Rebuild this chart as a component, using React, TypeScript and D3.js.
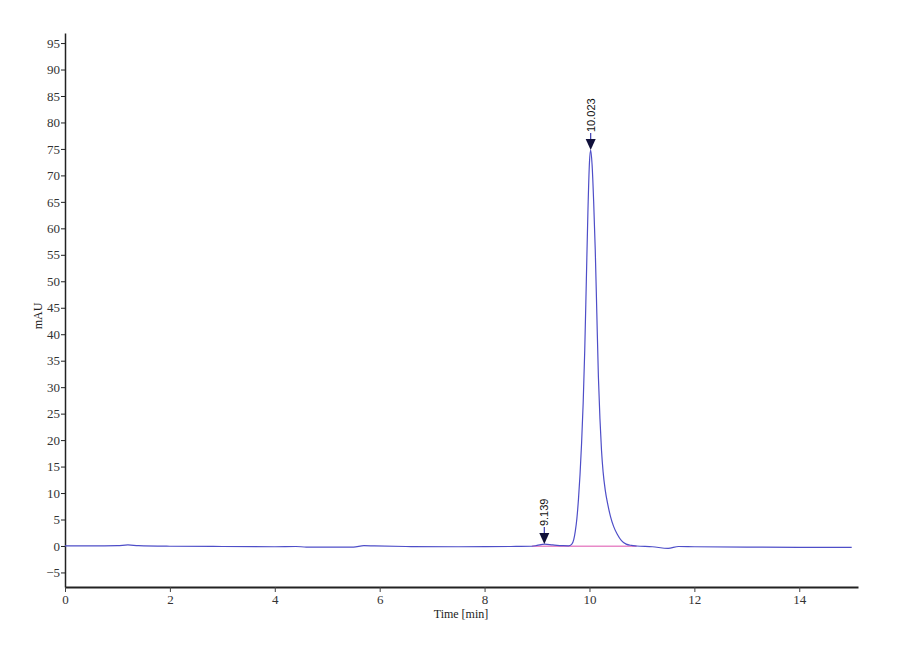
import React, { useRef, useEffect } from 'react';
import * as d3 from 'd3';

// chromatogram trace: time [min] and absorbance [mAU]
const traceTime = [
  0, 0.5, 1.0, 1.2, 1.4, 2.0, 3.0, 4.0, 4.4, 4.6, 5.0, 5.5, 5.7, 5.9, 6.5, 7.5, 8.5, 8.9,
  9.0, 9.14, 9.3, 9.5, 9.6, 9.66, 9.7, 9.73, 9.76, 9.79, 9.82, 9.85, 9.88, 9.91, 9.94, 9.97, 10.0,
  10.023, 10.05, 10.08, 10.11, 10.14, 10.17, 10.2, 10.23, 10.26, 10.3, 10.35, 10.4,
  10.46, 10.53, 10.61, 10.7, 10.8, 10.9, 11.2, 11.5, 11.7, 12.0, 13.0, 14.0, 15.0,
];
const traceValue = [
  0, 0, 0.05, 0.2, 0.05, -0.05, -0.1, -0.15, -0.1, -0.2, -0.2, -0.2, 0.05, 0, -0.1, -0.15, -0.1, -0.05,
  0.1, 0.35, 0.2, 0.05, 0.02, 0.3, 1.2, 2.8, 5.2, 8.8, 13.5, 19.5, 27, 37, 50, 63, 72.5,
  74.8, 72, 65, 56, 44, 32, 24, 18, 14, 10.6, 7.8, 5.6,
  3.7, 2.2, 1.0, 0.35, 0.1, 0, -0.15, -0.45, -0.1, -0.15, -0.2, -0.25, -0.25,
];

// integration baseline under the peaks
const baselineTime = [8.9, 10.9];
const baselineValue = [-0.05, -0.05];

// detected peaks
const peakTime = [9.139, 10.023];
const peakValue = [0.35, 74.8];
const peakLabel = ['9.139', '10.023'];

const yTicks = d3.range(-5, 96, 5);
const xTicks = [0, 2, 4, 6, 8, 10, 12, 14];

const serif = '"Liberation Serif", "Times New Roman", serif';

const Chromatogram: React.FC = () => {
  const svgRef = useRef<SVGSVGElement | null>(null);
  const width = 900;
  const height = 660;

  useEffect(() => {
    if (!svgRef.current) return;
    const svg = d3.select(svgRef.current);
    svg.selectAll('*').remove();

    const x = d3.scaleLinear().domain([0, 15.12]).range([65, 858]);
    const y = d3.scaleLinear().domain([-7.75, 96.9]).range([587, 33]);

    svg.append('rect').attr('width', width).attr('height', height).attr('fill', '#ffffff');

    // axes
    const yAxis = svg.append('g')
      .attr('transform', `translate(${x(0)},0)`)
      .call(d3.axisLeft(y).tickValues(yTicks).tickSize(4).tickSizeOuter(0))
      .attr('font-family', serif)
      .attr('font-size', 13);
    yAxis.select('.domain').attr('stroke', '#222').attr('stroke-width', 1.5);
    yAxis.selectAll('line').attr('stroke', '#222');
    yAxis.selectAll('text')
      .attr('font-family', serif)
      .attr('fill', '#333')
      .attr('x', -5);

    const xAxis = svg.append('g')
      .attr('transform', `translate(0,${y.range()[0]})`)
      .call(d3.axisBottom(x).tickValues(xTicks).tickSize(5).tickSizeOuter(0))
      .attr('font-family', serif)
      .attr('font-size', 13);
    xAxis.select('.domain').attr('stroke', '#222').attr('stroke-width', 2);
    xAxis.selectAll('line').attr('stroke', '#444');
    xAxis.selectAll('text')
      .attr('font-family', serif)
      .attr('fill', '#333')
      .attr('y', 8);

    svg.append('text')
      .attr('x', 461)
      .attr('y', 618)
      .attr('text-anchor', 'middle')
      .attr('font-family', serif)
      .attr('font-size', 12)
      .attr('fill', '#222')
      .text('Time [min]');

    svg.append('text')
      .attr('transform', 'translate(42,316) rotate(-90)')
      .attr('text-anchor', 'middle')
      .attr('font-family', serif)
      .attr('font-size', 12)
      .attr('fill', '#222')
      .text('mAU');

    // baseline
    const baseLine = d3.line<number>()
      .x((_, i) => x(baselineTime[i]))
      .y((_, i) => y(baselineValue[i]));
    svg.append('path')
      .attr('d', baseLine(baselineTime))
      .attr('fill', 'none')
      .attr('stroke', '#e88ac8')
      .attr('stroke-width', 1.5);

    // trace
    const trace = d3.line<number>()
      .x((_, i) => x(traceTime[i]))
      .y((_, i) => y(traceValue[i]))
      .curve(d3.curveMonotoneX);
    svg.append('path')
      .attr('d', trace(traceTime))
      .attr('fill', 'none')
      .attr('stroke', '#4e4ec8')
      .attr('stroke-width', 1.2);

    // peak markers
    const marks = svg.append('g');
    peakTime.forEach((t, i) => {
      const px = x(t);
      const py = y(peakValue[i]);
      marks.append('path')
        .attr('d', `M${px},${py} L${px - 5},${py - 11} L${px + 5},${py - 11} Z`)
        .attr('fill', '#10103a');
      marks.append('line')
        .attr('x1', px).attr('x2', px)
        .attr('y1', py - 11).attr('y2', py - 17)
        .attr('stroke', '#3a3ab0')
        .attr('stroke-width', 1.2);
      marks.append('text')
        .attr('transform', `translate(${px + 4},${py - 18}) rotate(-90)`)
        .attr('font-family', '"Liberation Sans", Arial, sans-serif')
        .attr('font-size', 11)
        .attr('fill', '#111')
        .text(peakLabel[i]);
    });
  }, []);

  return (
    <svg
      ref={svgRef}
      width={width}
      height={height}
      style={{ position: 'absolute', left: 0, top: 0 }}
    />
  );
};

export default function App() {
  return <Chromatogram />;
}
